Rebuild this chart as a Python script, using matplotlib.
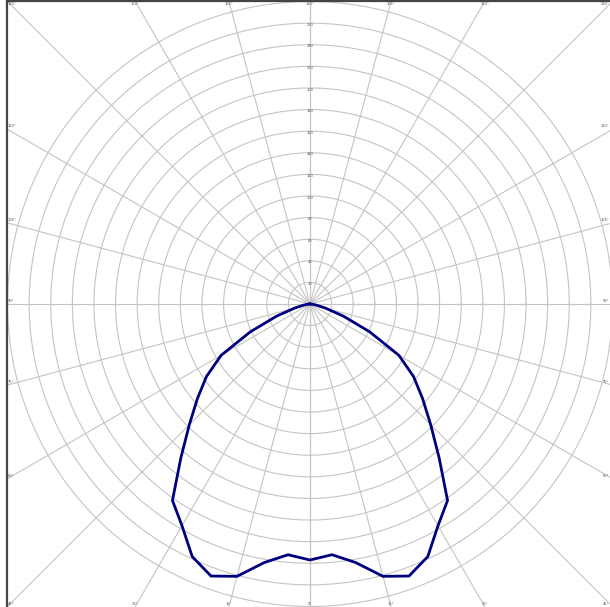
import numpy as np
import matplotlib
matplotlib.use("Agg")
import matplotlib.pyplot as plt

# Luminous intensity distribution (symmetric C-plane), gamma angle from nadir
gamma_deg = [0, 5, 10, 15, 20, 25, 30, 35, 40, 45, 50, 55, 60, 65, 70, 75, 80, 85, 90]
intensity = [237, 233, 243, 261, 268, 258, 237, 222, 186, 158, 136, 117, 95, 61, 33, 15, 6, 2, 0]

ring_values = [20, 40, 60, 80, 100, 120, 140, 160, 180, 200, 220, 240, 260, 280]
spoke_angles = list(range(0, 181, 15))
spoke_labels = [f"{a}°" for a in spoke_angles]

R = 280.5
grid_color = "#c4c4c4"
text_color = "#555555"

fig = plt.figure(figsize=(6.10, 6.07), dpi=100)
ax = fig.add_axes([7 / 610, 0 / 607, 606 / 610, 606 / 607])
ax.set_xlim(-R, R)
ax.set_ylim(-R, R)
ax.set_aspect("equal")
ax.set_xticks([])
ax.set_yticks([])
for name, sp in ax.spines.items():
    sp.set_color("#444444")
    sp.set_linewidth(1.6)
ax.spines["right"].set_visible(False)
ax.spines["bottom"].set_visible(False)

# concentric rings
t = np.linspace(0, 2 * np.pi, 721)
for rv in ring_values:
    ax.plot(rv * np.cos(t), rv * np.sin(t), color=grid_color, lw=0.8, zorder=1)
    if rv < 280:
        ax.text(0, rv - 1.5, str(rv), fontsize=2.6, color=text_color,
                ha="center", va="center", zorder=2)

# spokes every 15 degrees on both sides, running to the frame
L = R * 1.5
for a, lab in zip(spoke_angles, spoke_labels):
    th = np.radians(a)
    for side in (1, -1):
        dx, dy = side * np.sin(th), -np.cos(th)
        ax.plot([0, L * dx], [0, L * dy], color=grid_color, lw=0.8, zorder=1)
        if (a == 0 or a == 180) and side == -1:
            continue
        # point where the spoke meets the frame
        s = R / max(abs(dx), abs(dy))
        ex, ey = s * dx, s * dy
        if abs(ey) >= R - 1e-6 and abs(ex) < R - 1e-6:
            yy = ey - 2.5 if ey > 0 else ey + 2.5
            ax.text(ex, yy, lab, fontsize=2.6, color=text_color, ha="center",
                    va="center", zorder=3)
        else:
            yy = ey - 3.0 if ey > R - 1 else ey + 2.5
            if ex < 0:
                ax.text(ex + 1, yy, lab, fontsize=2.6, color=text_color,
                        ha="left", va="center", zorder=3)
            else:
                ax.text(ex - 3.5, yy, lab, fontsize=2.6, color=text_color,
                        ha="right", va="center", zorder=3)

# intensity curve, mirrored about the nadir
g = np.radians(np.array(gamma_deg, dtype=float))
I = np.array(intensity, dtype=float)
ang = np.concatenate([-g[::-1], g[1:]])
val = np.concatenate([I[::-1], I[1:]])
ax.plot(val * np.sin(ang), -val * np.cos(ang), color="#000080", lw=2.0,
        solid_joinstyle="miter", zorder=4)

fig.savefig("out.png", dpi=100)
